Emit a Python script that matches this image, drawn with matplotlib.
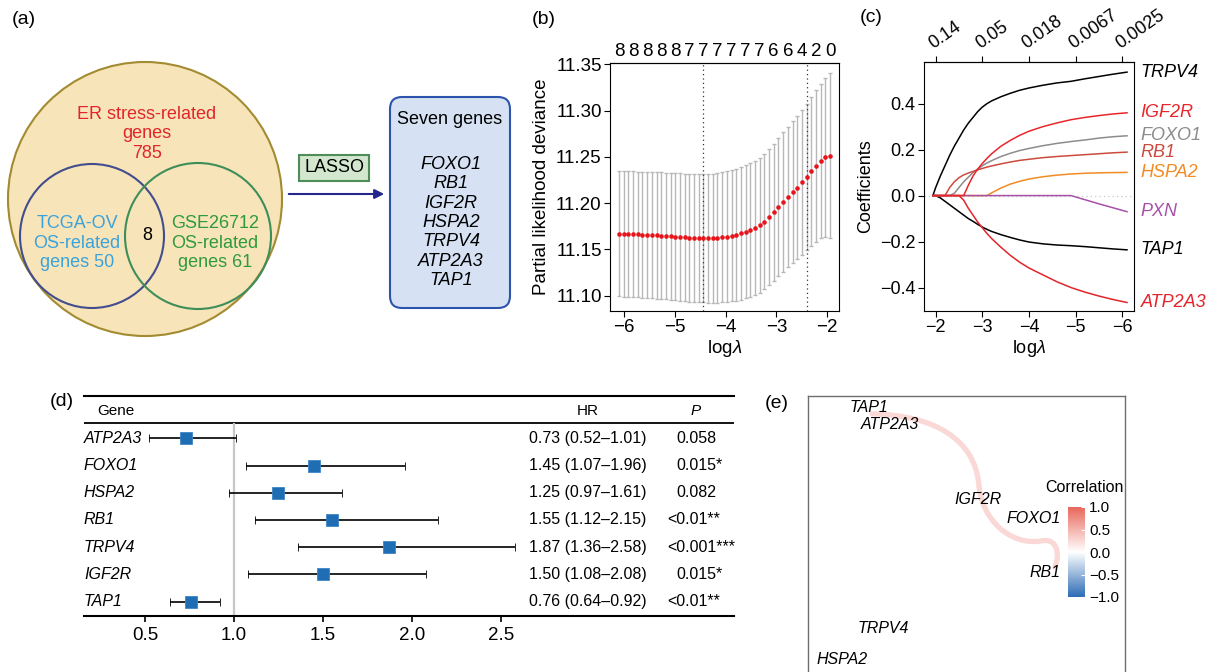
import numpy as np
import matplotlib.pyplot as plt
from matplotlib.patches import Circle, Rectangle, FancyBboxPatch, PathPatch
from matplotlib.path import Path
from matplotlib.colors import LinearSegmentedColormap, Normalize
from matplotlib.cm import ScalarMappable

plt.rcParams['font.family'] = ['Liberation Sans', 'DejaVu Sans']
plt.rcParams['mathtext.fontset'] = 'custom'
plt.rcParams['mathtext.rm'] = 'Liberation Sans'
plt.rcParams['mathtext.it'] = 'Liberation Sans:italic'

W, H = 1217, 672

# ---------------- data ----------------
# (a) venn + selected genes
er_label = "ER stress-related\ngenes\n785"
tcga_label = "TCGA-OV\nOS-related\ngenes 50"
gse_label = "GSE26712\nOS-related\ngenes 61"
n_overlap = 8
seven_genes = ['FOXO1', 'RB1', 'IGF2R', 'HSPA2', 'TRPV4', 'ATP2A3', 'TAP1']

# (b) cross-validation curve
log_lambda = np.array([
    -6.105, -6.012, -5.920, -5.827, -5.735, -5.642, -5.550, -5.457, -5.364, -5.272,
    -5.179, -5.087, -4.994, -4.902, -4.809, -4.717, -4.624, -4.531, -4.439, -4.346,
    -4.254, -4.161, -4.069, -3.976, -3.884, -3.791, -3.698, -3.606, -3.513, -3.421,
    -3.328, -3.236, -3.143, -3.051, -2.958, -2.865, -2.773, -2.680, -2.588, -2.495,
    -2.403, -2.310, -2.218, -2.125, -2.033, -1.940])
cvm = np.array([
    11.1667, 11.1666, 11.1665, 11.1664, 11.1662, 11.1660, 11.1658, 11.1655, 11.1652, 11.1649,
    11.1645, 11.1641, 11.1637, 11.1633, 11.1629, 11.1626, 11.1623, 11.1621, 11.1620, 11.1620,
    11.1622, 11.1625, 11.1630, 11.1637, 11.1646, 11.1657, 11.1672, 11.1690, 11.1710, 11.1733,
    11.1760, 11.1800, 11.1848, 11.1900, 11.1955, 11.2012, 11.2068, 11.2117, 11.2168, 11.2225,
    11.2285, 11.2343, 11.2402, 11.2453, 11.2493, 11.2513])
cvsd = np.array([
    0.0675, 0.0676, 0.0677, 0.0678, 0.0679, 0.0680, 0.0681, 0.0682, 0.0683, 0.0684,
    0.0685, 0.0686, 0.0687, 0.0688, 0.0689, 0.0690, 0.0691, 0.0692, 0.0693, 0.0695,
    0.0697, 0.0699, 0.0702, 0.0705, 0.0708, 0.0711, 0.0714, 0.0717, 0.0720, 0.0724,
    0.0728, 0.0732, 0.0737, 0.0742, 0.0747, 0.0753, 0.0759, 0.0765, 0.0772, 0.0780,
    0.0790, 0.0803, 0.0818, 0.0835, 0.0858, 0.0890])
idx_min, idx_1se = 18, 40
nzero_top = [8, 8, 8, 8, 8, 7, 7, 7, 7, 7, 7, 6, 6, 4, 2, 0]

# (c) coefficient paths
path_x = [-1.94, -2.0, -2.1, -2.2, -2.3, -2.4, -2.5, -2.6, -2.7, -2.8, -2.9, -3.0, -3.1,
          -3.2, -3.4, -3.6, -3.8, -4.0, -4.3, -4.6, -4.9, -5.2, -5.5, -5.8, -6.1]
coef_paths = {
    'HSPA2':  [0, 0, 0, 0, 0, 0, 0, 0, 0, 0, 0, 0, 0,
               0.012, 0.033, 0.050, 0.062, 0.072, 0.082, 0.089, 0.094, 0.097, 0.099, 0.100, 0.101],
    'PXN':    [0, 0, 0, 0, 0, 0, 0, 0, 0, 0, 0, 0, 0,
               0, 0, 0, 0, 0, 0, 0, 0, -0.018, -0.036, -0.053, -0.070],
    'TRPV4':  [0, 0.035, 0.085, 0.130, 0.175, 0.215, 0.250, 0.285, 0.315, 0.340, 0.365, 0.385, 0.400,
               0.412, 0.430, 0.445, 0.458, 0.468, 0.480, 0.490, 0.497, 0.508, 0.518, 0.528, 0.537],
    'TAP1':   [0, 0, -0.010, -0.025, -0.040, -0.055, -0.070, -0.085, -0.100, -0.112, -0.125, -0.137, -0.147,
               -0.156, -0.170, -0.182, -0.193, -0.202, -0.210, -0.215, -0.218, -0.222, -0.227, -0.232, -0.236],
    'FOXO1':  [0, 0, 0, 0, 0, 0.010, 0.035, 0.060, 0.080, 0.100, 0.115, 0.130, 0.142,
               0.152, 0.170, 0.184, 0.196, 0.205, 0.217, 0.227, 0.235, 0.242, 0.250, 0.256, 0.260],
    'RB1':    [0, 0, 0, 0, 0.035, 0.060, 0.078, 0.090, 0.098, 0.105, 0.112, 0.118, 0.124,
               0.129, 0.138, 0.146, 0.153, 0.158, 0.165, 0.170, 0.174, 0.178, 0.182, 0.186, 0.189],
    'ATP2A3': [0, 0, 0, 0, 0, 0, 0, -0.020, -0.055, -0.085, -0.115, -0.140, -0.165,
               -0.187, -0.225, -0.260, -0.290, -0.315, -0.345, -0.375, -0.400, -0.420, -0.437, -0.452, -0.465],
    'IGF2R':  [0, 0, 0, 0, 0, 0, 0, 0, 0.045, 0.085, 0.115, 0.140, 0.162,
               0.182, 0.215, 0.240, 0.262, 0.280, 0.300, 0.316, 0.330, 0.340, 0.348, 0.355, 0.360],
}
coef_colors = {'TRPV4': 'black', 'IGF2R': '#e8262b', 'FOXO1': '#8c8c8c', 'RB1': '#cc4a3e',
               'HSPA2': '#f28b24', 'PXN': '#a650a8', 'TAP1': 'black', 'ATP2A3': '#e3242b'}
lam_ticks = [-2, -3, -4, -5, -6]
lam_labels = ['0.14', '0.05', '0.018', '0.0067', '0.0025']

# (d) univariate cox
cox_genes = ['ATP2A3', 'FOXO1', 'HSPA2', 'RB1', 'TRPV4', 'IGF2R', 'TAP1']
hr = np.array([0.73, 1.45, 1.25, 1.55, 1.87, 1.50, 0.76])
hr_lo = np.array([0.52, 1.07, 0.97, 1.12, 1.36, 1.08, 0.64])
hr_hi = np.array([1.01, 1.96, 1.61, 2.15, 2.58, 2.08, 0.92])
p_text = ['0.058', '0.015*', '0.082', '<0.01**', '<0.001***', '0.015*', '<0.01**']

# (e) correlation network (layout units)
net_genes = ['TAP1', 'ATP2A3', 'IGF2R', 'FOXO1', 'RB1', 'TRPV4', 'HSPA2']
net_x = [0.192, 0.260, 0.537, 0.713, 0.748, 0.237, 0.109]
net_y = [0.960, 0.898, 0.636, 0.569, 0.378, 0.182, 0.073]
edge_corr = 0.25
edge_pts = [(0.202, 0.937), (0.401, 0.933), (0.527, 0.845), (0.539, 0.687),
            (0.549, 0.563), (0.637, 0.475), (0.732, 0.489),
            (0.789, 0.504), (0.795, 0.440), (0.779, 0.398)]


def box(x0, y0, x1, y1):
    return [x0 / W, 1 - y1 / H, (x1 - x0) / W, (y1 - y0) / H]


fig = plt.figure(figsize=(W / 100, H / 100), dpi=100)

# ---------------- (a) ----------------
ax = fig.add_axes(box(0, 0, 530, 340))
ax.set_xlim(0, 530)
ax.set_ylim(340, 0)
ax.axis('off')
ax.add_patch(Circle((145, 199), 137, fc='#f7e4b8', ec='#a38b32', lw=1.5))
ax.add_patch(Circle((92, 236), 72, fc='none', ec='#414d8d', lw=1.5))
ax.add_patch(Circle((198, 236), 73, fc='none', ec='#3d8e5a', lw=1.5))
ax.text(147, 134, er_label, color='#e0262b', fontsize=13, ha='center', va='center', linespacing=1.2)
ax.text(77, 243, tcga_label, color='#3aa3dc', fontsize=13, ha='center', va='center', linespacing=1.2)
ax.text(215, 243, gse_label, color='#2f9a3c', fontsize=13, ha='center', va='center', linespacing=1.2)
ax.text(147, 236, str(n_overlap), fontsize=13, ha='center', va='center')
ax.add_patch(Rectangle((299, 155), 70, 26, fc='#d3e7cf', ec='#4e8d58', lw=1.5))
ax.text(334, 168, 'LASSO', fontsize=13, ha='center', va='center')
ax.annotate('', xy=(387, 194), xytext=(286, 194),
            arrowprops=dict(arrowstyle='-|>', color='#23268c', lw=1.5, mutation_scale=14))
ax.add_patch(FancyBboxPatch((390, 97), 120, 211, boxstyle='round,pad=0,rounding_size=12',
                            fc='#d6e2f4', ec='#2d54ad', lw=1.5))
ax.text(450, 119, 'Seven genes', fontsize=13, ha='center', va='center')
ax.text(451, 222.5, '\n'.join(seven_genes), fontsize=13, style='italic',
        ha='center', va='center', linespacing=1.19)

# ---------------- (b) ----------------
axb = fig.add_axes(box(610, 63, 839, 311))
axb.errorbar(log_lambda, cvm, yerr=cvsd, fmt='none', ecolor='#b8b8b8',
             elinewidth=1, capsize=1.6, capthick=1)
axb.plot(log_lambda, cvm, 'o', color='#e8141b', ms=3.3, mec='none', zorder=3)
for i in (idx_min, idx_1se):
    axb.axvline(log_lambda[i], ls=(0, (1, 2.5)), color='#333333', lw=0.9)
axb.set_xlim(-6.282, -1.763)
axb.set_ylim(11.0835, 11.3513)
axb.set_xticks([-6, -5, -4, -3, -2])
yt = [11.10, 11.15, 11.20, 11.25, 11.30, 11.35]
axb.set_yticks(yt, [f'{v:.2f}' for v in yt])
axb.tick_params(labelsize=13.5, length=4, pad=2)
axb.set_ylabel('Partial likelihood deviance', fontsize=13.5, labelpad=4)
axb.set_xlabel(r'log$\mathit{\lambda}$', fontsize=13.5, labelpad=1)
secb = axb.secondary_xaxis('top')
secb.set_xticks(log_lambda[::3], [str(n) for n in nzero_top])
secb.tick_params(length=0, pad=2, labelsize=13.5)

# ---------------- (c) ----------------
axc = fig.add_axes(box(924, 62, 1134, 311))
axc.axhline(0, ls=(0, (1, 2.5)), color='#c8c8c8', lw=0.9)
for g, ys in coef_paths.items():
    axc.plot(path_x, ys, color=coef_colors[g], lw=1.1)
    axc.text(1.032, ys[-1], g, color=coef_colors[g], fontsize=13, style='italic',
             va='center', ha='left', transform=axc.get_yaxis_transform())
axc.set_xlim(-1.75, -6.25)
axc.set_ylim(-0.502, 0.581)
axc.set_xticks(lam_ticks)
ytc = [-0.4, -0.2, 0.0, 0.2, 0.4]
axc.set_yticks(ytc, [f'{v:.1f}'.replace('-', '\u2212') for v in ytc])
axc.tick_params(labelsize=13, length=4, pad=2)
axc.set_ylabel('Coefficients', fontsize=13, labelpad=4)
axc.set_xlabel(r'log$\mathit{\lambda}$', fontsize=13, labelpad=1)
secc = axc.secondary_xaxis('top')
secc.set_xticks(lam_ticks, lam_labels)
secc.tick_params(length=4, pad=3, labelsize=13)
for lab in secc.get_xticklabels():
    lab.set_rotation(35)
    lab.set_ha('left')
    lab.set_rotation_mode('anchor')

# ---------------- (d) ----------------
axd = fig.add_axes(box(84, 396, 734, 615.7))
rows = np.arange(len(cox_genes))
axd.set_xlim(0.157, 3.812)
axd.set_ylim(6.515, -1.553)
for s in ('left', 'right'):
    axd.spines[s].set_visible(False)
for s in ('top', 'bottom'):
    axd.spines[s].set_linewidth(1.5)
axd.axhline(-0.551, color='black', lw=1.3)
axd.vlines(1.0, -0.551, 6.515, color='#c8c8c8', lw=1.6)
axd.errorbar(hr, rows, xerr=[hr - hr_lo, hr_hi - hr], fmt='s', color='#1f6db3', ms=9,
             mec='#3f86c6', mew=0.6, ecolor='black', elinewidth=1.2, capsize=2.6, capthick=1.2)
tr = axd.get_yaxis_transform()
axd.text(0.02, -1.0, 'Gene', fontsize=11, ha='left', va='center', transform=tr)
axd.text(0.775, -1.0, 'HR', fontsize=11, ha='center', va='center', transform=tr)
axd.text(0.941, -1.0, 'P', fontsize=11, style='italic', ha='center', va='center', transform=tr)
for i, g in enumerate(cox_genes):
    axd.text(0.0, i, g, fontsize=11.5, style='italic', ha='left', va='center', transform=tr)
    axd.text(0.775, i, f'{hr[i]:.2f} ({hr_lo[i]:.2f}\u2013{hr_hi[i]:.2f})', fontsize=11.5,
             ha='center', va='center', transform=tr)
    px = 0.897 if p_text[i].startswith('<') else 0.912
    axd.text(px, i, p_text[i], fontsize=11.5, ha='left', va='center', transform=tr)
axd.set_xticks([0.5, 1.0, 1.5, 2.0, 2.5], ['0.5', '1.0', '1.5', '2.0', '2.5'])
axd.set_yticks([])
axd.tick_params(axis='x', length=4, width=1.2, labelsize=13.5, pad=4)

# ---------------- (e) ----------------
axe = fig.add_axes(box(808, 396, 1125, 680))
axe.set_xlim(0, 1)
axe.set_ylim(0, 1)
axe.set_xticks([])
axe.set_yticks([])
for s in axe.spines.values():
    s.set_color('#6e6e6e')
    s.set_linewidth(1)
cmap = LinearSegmentedColormap.from_list('corr', ['#2c6bb5', 'white', '#e8675b'])
norm = Normalize(-1, 1)
codes = [Path.MOVETO] + [Path.CURVE4] * (len(edge_pts) - 1)
axe.add_patch(PathPatch(Path(edge_pts, codes), fc='none', ec=cmap(norm(edge_corr)),
                        lw=3.8, capstyle='round'))
for g, x, y in zip(net_genes, net_x, net_y):
    axe.text(x, y, g, fontsize=11.5, style='italic', ha='center', va='center')
cax = fig.add_axes(box(1068, 507, 1085, 597))
cb = fig.colorbar(ScalarMappable(norm=norm, cmap=cmap), cax=cax)
cb.outline.set_visible(False)
cbt = [-1.0, -0.5, 0.0, 0.5, 1.0]
cb.set_ticks(cbt, labels=[f'{v:.1f}'.replace('-', '\u2212') for v in cbt])
cax.tick_params(direction='in', color='white', length=3, labelsize=11, pad=3)
fig.text(1045 / W, 1 - 487 / H, 'Correlation', fontsize=11.5, va='center', ha='left')

# panel tags
for tag, x, y in [('(a)', 12, 20), ('(b)', 532, 20), ('(c)', 860, 18),
                  ('(d)', 50, 402), ('(e)', 765, 403)]:
    fig.text(x / W, 1 - y / H, tag, fontsize=14, ha='left', va='center')

fig.savefig('out.png', dpi=100)
